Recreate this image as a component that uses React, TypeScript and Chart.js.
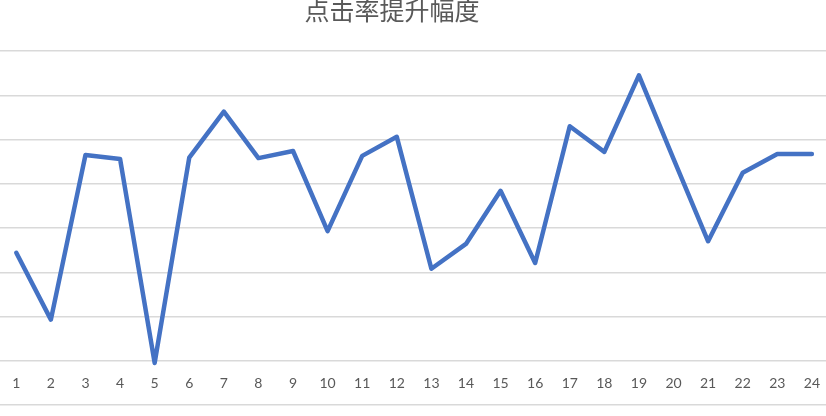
import React, { useEffect, useRef } from "react";
import { Chart, registerables } from "chart.js";

Chart.register(...registerables);

const categories: string[] = [
  "1", "2", "3", "4", "5", "6", "7", "8", "9", "10", "11", "12",
  "13", "14", "15", "16", "17", "18", "19", "20", "21", "22", "23", "24",
];

const clickRateLift: number[] = [
  2.44, 0.93, 4.65, 4.56, -0.05, 4.59, 5.63, 4.58, 4.74, 2.93, 4.63, 5.06,
  2.08, 2.64, 3.84, 2.21, 5.3, 4.72, 6.45, 4.56, 2.7, 4.25, 4.67, 4.67,
];

const titleText = "点击率提升幅度";

export default function App() {
  const ref = useRef<HTMLCanvasElement | null>(null);

  useEffect(() => {
    if (!ref.current) return;
    const chart = new Chart(ref.current, {
      type: "line",
      data: {
        labels: categories,
        datasets: [
          {
            label: titleText,
            data: clickRateLift,
            borderColor: "#4472C4",
            backgroundColor: "#4472C4",
            borderWidth: 4.5,
            pointRadius: 0,
            tension: 0,
            borderCapStyle: "round",
            borderJoinStyle: "round",
          },
        ],
      },
      options: {
        animation: false,
        responsive: false,
        maintainAspectRatio: false,
        layout: { padding: { left: 0, right: 0, top: 0, bottom: 11 } },
        plugins: {
          legend: { display: false },
          tooltip: { enabled: false },
          title: {
            display: true,
            text: titleText,
            color: "#595959",
            font: { family: "'Noto Sans CJK SC'", size: 25, weight: "normal", lineHeight: 0.85 },
            padding: { top: 0, bottom: 29.75 },
          },
        },
        scales: {
          x: {
            type: "category",
            offset: true,
            position: { y: 0 } as any,
            grid: { display: false, drawTicks: false },
            border: { display: false },
            ticks: {
              color: "#595959",
              padding: 14,
              maxRotation: 0,
              autoSkip: false,
              font: { family: "Lato", size: 14 },
            },
          },
          y: {
            min: -1,
            max: 7,
            ticks: { display: false, stepSize: 1 },
            grid: { color: "#d9d9d9", lineWidth: 1.5, drawTicks: false },
            border: { display: false },
            afterFit: (scale: any) => {
              scale.width = 49;
            },
          },
        },
      },
    });
    return () => chart.destroy();
  }, []);

  return (
    <div
      style={{
        position: "fixed",
        left: 0,
        top: 0,
        width: 826,
        height: 416,
        overflow: "hidden",
        background: "#ffffff",
      }}
    >
      <div style={{ position: "absolute", left: -50, top: 0, width: 884, height: 416 }}>
        <canvas ref={ref} width={884} height={416} style={{ display: "block", width: 884, height: 416 }} />
      </div>
    </div>
  );
}
